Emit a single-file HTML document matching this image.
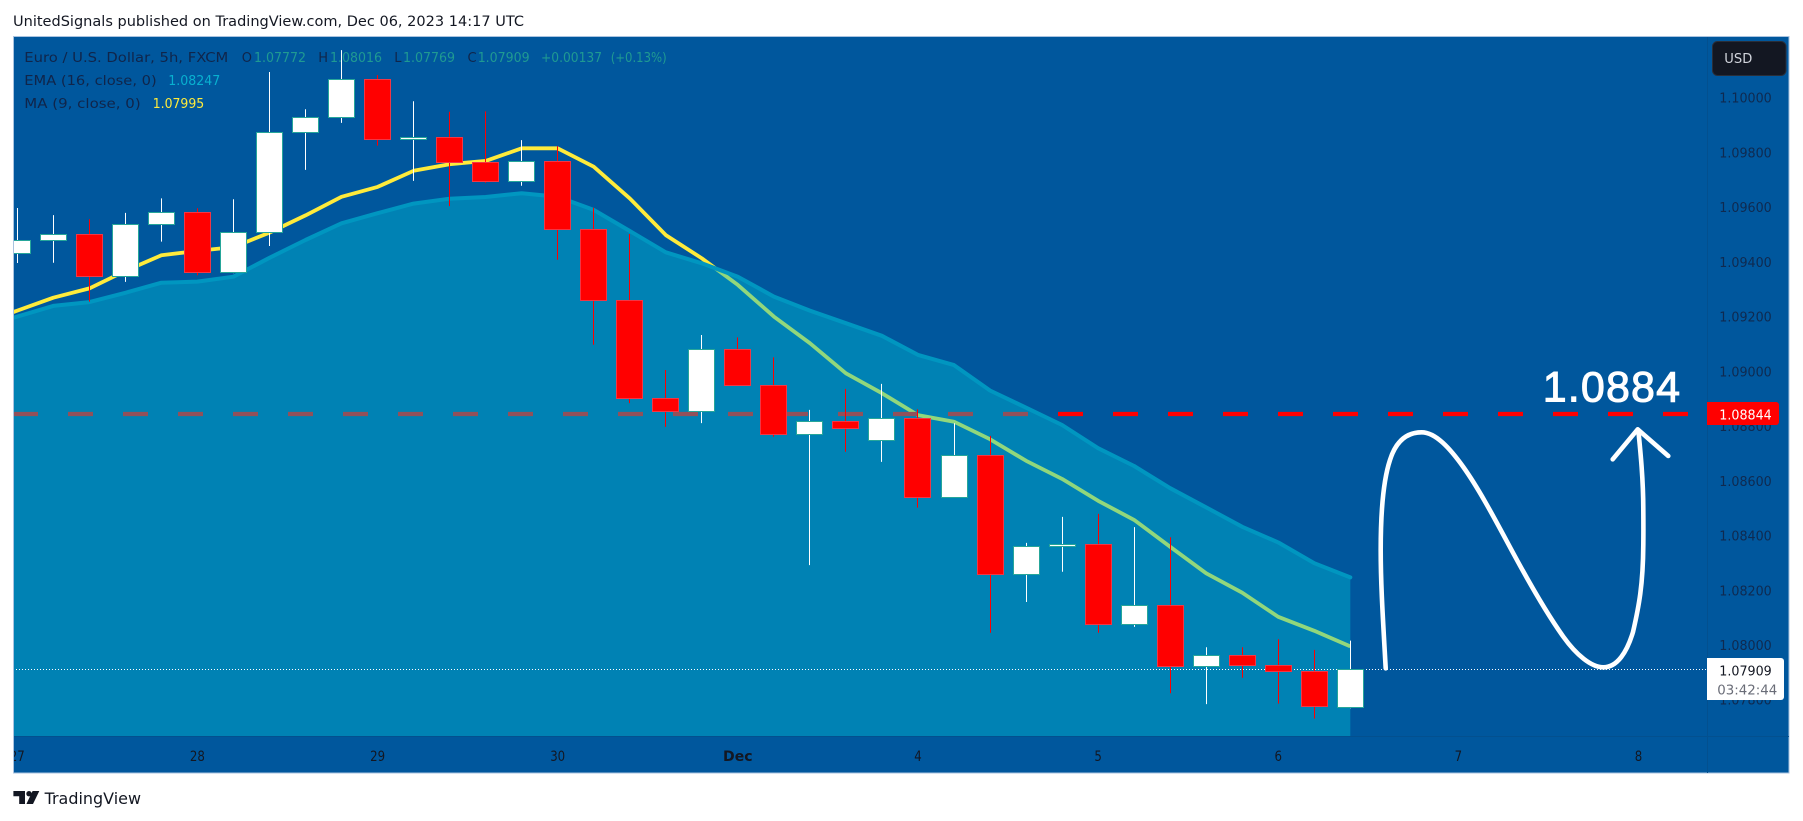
<!DOCTYPE html>
<html lang="en">
<head>
<meta charset="utf-8">
<title>EUR/USD 5h chart</title>
<style>
html,body{margin:0;padding:0;background:#fff;width:1803px;height:821px;overflow:hidden}
svg{display:block}
text{font-family:"DejaVu Sans","Liberation Sans",sans-serif;font-size:13px}
</style>
</head>
<body>
<svg id="chart" xmlns="http://www.w3.org/2000/svg" width="1803" height="821" viewBox="0 0 1803 821">
  <defs>
    <clipPath id="pane-clip"><rect x="14" y="37" width="1693" height="699"/></clipPath>
    <clipPath id="time-clip"><rect x="14" y="737" width="1693" height="36"/></clipPath>
  </defs>
  <text x="13" y="26" style="font-size:14px" fill="#131722" textLength="511" lengthAdjust="spacingAndGlyphs">UnitedSignals published on TradingView.com, Dec 06, 2023 14:17 UTC</text>
  <rect x="13.5" y="36.5" width="1775.5" height="736.5" fill="#00579d" stroke="#a9c3e0" stroke-width="1"/>

  <g>
    <text x="24.3" y="62" fill="#10254a" textLength="204" lengthAdjust="spacingAndGlyphs">Euro / U.S. Dollar, 5h, FXCM</text>
    <text x="241.7" y="62" fill="#10254a">O</text>
    <text x="254" y="62" fill="#1f9a92" textLength="52" lengthAdjust="spacingAndGlyphs">1.07772</text>
    <text x="318.3" y="62" fill="#10254a">H</text>
    <text x="330" y="62" fill="#1f9a92" textLength="52" lengthAdjust="spacingAndGlyphs">1.08016</text>
    <text x="394.3" y="62" fill="#10254a">L</text>
    <text x="403" y="62" fill="#1f9a92" textLength="52" lengthAdjust="spacingAndGlyphs">1.07769</text>
    <text x="467.5" y="62" fill="#10254a">C</text>
    <text x="477.7" y="62" fill="#1f9a92" textLength="52" lengthAdjust="spacingAndGlyphs">1.07909</text>
    <text x="541" y="62" fill="#1f9a92" textLength="61" lengthAdjust="spacingAndGlyphs">+0.00137</text>
    <text x="610.7" y="62" fill="#1f9a92" textLength="56" lengthAdjust="spacingAndGlyphs">(+0.13%)</text>
    <text x="24.3" y="85" fill="#10254a" textLength="132.4" lengthAdjust="spacingAndGlyphs">EMA (16, close, 0)</text>
    <text x="168.3" y="85" fill="#08b0d0" textLength="52" lengthAdjust="spacingAndGlyphs">1.08247</text>
    <text x="24.3" y="108" fill="#10254a" textLength="116.4" lengthAdjust="spacingAndGlyphs">MA (9, close, 0)</text>
    <text x="152.7" y="108" fill="#ffeb3b" textLength="51.5" lengthAdjust="spacingAndGlyphs">1.07995</text>
  </g>

  <g id="pane" clip-path="url(#pane-clip)"></g>

  <g fill="none" stroke="#ffffff" stroke-width="4.6" stroke-linecap="round" stroke-linejoin="round">
    <path d="M1385.7 668.3 C1383 620 1380.7 585 1380.7 550 C1380.7 510 1384 478 1390 460 C1396 441 1407 432.3 1421.7 432.3 C1435.7 432.3 1450.3 448.8 1463.3 467 C1480 490.4 1496.6 522.4 1513.3 553.3 C1530 584.2 1546.6 613.3 1563.3 636.7 C1576.3 654.9 1591.3 667.3 1603.3 667.3 C1617.3 667.3 1627 652 1633 632 C1639 606 1643 585 1643.3 545 C1643.5 530 1643.4 520 1643.3 510 C1643.3 480 1640.5 452 1638.3 430"/>
    <path d="M1612.7 459.3 L1637.7 429.3 L1668.3 456"/>
  </g>
  <text x="1542.7" y="401.7" fill="#ffffff" stroke="#ffffff" stroke-width="1" style="font-family:'Liberation Sans',sans-serif;font-size:43px" textLength="137.3" lengthAdjust="spacing">1.0884</text>

  <line x1="1707.5" y1="37" x2="1707.5" y2="773" stroke="#03508f" stroke-width="1"/>
  <line x1="14" y1="736.5" x2="1789" y2="736.5" stroke="#03508f" stroke-width="1"/>
  <g id="price-axis"></g>
  <g id="time-axis" clip-path="url(#time-clip)"></g>

  <g>
    <rect x="1712.5" y="41.5" width="73.5" height="34" rx="5" fill="#131722" stroke="#2a2e39"/>
    <text x="1724.3" y="63" fill="#d1d4dc" textLength="28" lengthAdjust="spacingAndGlyphs">USD</text>
  </g>

  <g>
    <path d="M1707 402 H1776 a3 3 0 0 1 3 3 V422 a3 3 0 0 1 -3 3 H1707 Z" fill="#ff0000"/>
    <text id="level-label" x="1745.5" y="419.5" fill="#ffffff" text-anchor="middle" textLength="52.5" lengthAdjust="spacingAndGlyphs">1.08844</text>
  </g>
  <g>
    <path d="M1707 658 H1781 a3 3 0 0 1 3 3 V697 a3 3 0 0 1 -3 3 H1707 Z" fill="#ffffff"/>
    <text x="1745.5" y="675.5" fill="#131722" text-anchor="middle" textLength="52.5" lengthAdjust="spacingAndGlyphs">1.07909</text>
    <text x="1747.3" y="694.5" fill="#6a6d78" text-anchor="middle" textLength="60" lengthAdjust="spacingAndGlyphs">03:42:44</text>
  </g>

  <g>
    <path fill="#131722" d="M13.4 791 H25 V804 H19.2 V796.2 H13.4 Z M26.4 804 L32.6 791 H39.3 L33 804 Z"/>
    <circle cx="29" cy="793.7" r="2.7" fill="#131722"/>
    <text x="44.6" y="804" fill="#131722" style="font-size:16px" textLength="96.4" lengthAdjust="spacingAndGlyphs">TradingView</text>
  </g>
</svg>

<script>
// ---- chart data (prices) ----
const opens  = [1.09431,1.09479,1.09501,1.09347,1.09536,1.09581,1.09360,1.09507,1.09872,1.09927,1.10067,1.09847,1.09855,1.09762,1.09693,1.09766,1.09519,1.09260,1.08902,1.08854,1.09079,1.08949,1.08770,1.08817,1.08748,1.08827,1.08540,1.08692,1.08258,1.08359,1.08368,1.08074,1.08144,1.07921,1.07961,1.07926,1.07904,1.07772];
const highs  = [1.09597,1.09571,1.09556,1.09579,1.09632,1.09596,1.09629,1.10094,1.09958,1.10174,1.10083,1.09987,1.09949,1.09950,1.09845,1.09823,1.09598,1.09502,1.09005,1.09133,1.09124,1.09051,1.08859,1.08936,1.08954,1.08861,1.08810,1.08764,1.08373,1.08468,1.08479,1.08431,1.08394,1.07992,1.07992,1.08021,1.07982,1.08016];
const lows   = [1.09396,1.09397,1.09255,1.09327,1.09474,1.09351,1.09359,1.09458,1.09736,1.09908,1.09825,1.09696,1.09604,1.09689,1.09678,1.09408,1.09097,1.08884,1.08797,1.08811,1.08948,1.08761,1.08292,1.08706,1.08669,1.08502,1.08539,1.08045,1.08157,1.08268,1.08045,1.08066,1.07824,1.07784,1.07880,1.07786,1.07731,1.07769];
const closes = [1.09477,1.09499,1.09346,1.09536,1.09581,1.09360,1.09507,1.09872,1.09927,1.10067,1.09847,1.09855,1.09762,1.09693,1.09766,1.09519,1.09260,1.08902,1.08854,1.09079,1.08949,1.08770,1.08817,1.08790,1.08827,1.08540,1.08692,1.08258,1.08359,1.08368,1.08074,1.08144,1.07921,1.07961,1.07926,1.07904,1.07775,1.07909];
// moving averages begin one bar before the first visible candle
const maValues  = [1.09174,1.09222,1.09269,1.09303,1.09367,1.09424,1.09440,1.09454,1.09507,1.09570,1.09638,1.09674,1.09733,1.09757,1.09769,1.09815,1.09815,1.09748,1.09632,1.09498,1.09413,1.09316,1.09200,1.09103,1.08993,1.08920,1.08840,1.08816,1.08752,1.08673,1.08607,1.08527,1.08457,1.08359,1.08262,1.08191,1.08103,1.08052,1.07995];
const emaValues = [1.09161,1.09200,1.09239,1.09253,1.09287,1.09324,1.09328,1.09346,1.09415,1.09480,1.09541,1.09578,1.09613,1.09631,1.09637,1.09651,1.09638,1.09590,1.09513,1.09435,1.09395,1.09346,1.09273,1.09222,1.09176,1.09130,1.09060,1.09023,1.08930,1.08867,1.08804,1.08719,1.08654,1.08573,1.08503,1.08432,1.08375,1.08299,1.08247];
const priceTicks = [1.10000,1.09800,1.09600,1.09400,1.09200,1.09000,1.08800,1.08600,1.08400,1.08200,1.08000,1.07800];
const timeTickLabels = ['27','28','29','30','Dec','4','5','6','7','8'];
const timeTickEveryBars = [5];
const levelPrice = [1.08844];
const lastPrice = [1.07909];

// ---- axis functions ----
function xAt(i){ return 17.3 + 36.027 * i; }
function yAt(p){ return 97.7 + (1.1 - p) * 27365; }

const NS = 'http://www.w3.org/2000/svg';
function make(tag, attrs, parent){
  const el = document.createElementNS(NS, tag);
  for (const k in attrs) el.setAttribute(k, attrs[k]);
  parent.appendChild(el);
  return el;
}
const pane = document.getElementById('pane');
const priceAxis = document.getElementById('price-axis');
const timeAxis = document.getElementById('time-axis');

function linePoints(values, firstIndex){
  return values.map(function(v, k){ return xAt(firstIndex + k).toFixed(1) + ',' + yAt(v).toFixed(1); });
}

// MA line sits under the EMA area
const maLine = make('polyline', {points: linePoints(maValues, -1).join(' '), fill: 'none', stroke: '#ffeb3b', 'stroke-width': 3.8, 'stroke-linejoin': 'round'}, pane);



// target level
const levelLine = make('line', {x1: 13, x2: 1707, y1: yAt(levelPrice[0]).toFixed(1), y2: yAt(levelPrice[0]).toFixed(1), stroke: '#ff0000', 'stroke-width': 4.3, 'stroke-dasharray': '25 30'}, pane);



// EMA area and edge
const emaPts = linePoints(emaValues, -1);
const areaPath = 'M' + emaPts.join(' L') + ' L' + xAt(emaValues.length - 2).toFixed(1) + ',736 L' + xAt(-1).toFixed(1) + ',736 Z';
const emaArea = make('path', {d: areaPath, fill: 'rgba(0,188,212,0.43)'}, pane);


const emaLine = make('polyline', {points: emaPts.join(' '), fill: 'none', stroke: '#0096c0', 'stroke-width': 4, 'stroke-linejoin': 'round', 'stroke-linecap': 'round'}, pane);



// last price dotted line
const lastY = Math.floor(yAt(lastPrice[0])) + 0.5;
const lastLine = make('line', {x1: 13, x2: 1707, y1: lastY, y2: lastY, stroke: '#ffffff', 'stroke-width': 1, 'stroke-dasharray': '1 2'}, pane);



// candles
opens.forEach(function(o, i){
  const c = closes[i], up = c >= o;
  const cx = Math.floor(xAt(i)) + 0.5;
  const top = Math.floor(yAt(Math.max(o, c))) + 0.5, bottom = Math.floor(yAt(Math.min(o, c))) + 0.5;
  const wick = make('line', {x1: cx, x2: cx, y1: yAt(highs[i]).toFixed(1), y2: yAt(lows[i]).toFixed(1), stroke: up ? '#ffffff' : '#ff0000', 'stroke-width': 1}, pane);
  
  
  const body = make('rect', {x: cx - 13, y: top, width: 26, height: Math.max(bottom - top, 1), fill: up ? '#ffffff' : '#ff0000', stroke: up ? '#26a69a' : '#f23645', 'stroke-width': 1}, pane);
  
  
});

// price axis
priceTicks.forEach(function(p){
  const t = make('text', {x: 1745.5, y: (yAt(p) + 5).toFixed(1), fill: '#0f2a50', 'text-anchor': 'middle', textLength: 52.5, lengthAdjust: 'spacingAndGlyphs'}, priceAxis);
  
  
  t.textContent = p.toFixed(5);
});

// time axis
timeTickLabels.forEach(function(label, k){
  const isMonth = label === 'Dec';
  const t = make('text', {x: xAt(k * timeTickEveryBars[0]).toFixed(1), y: 761, fill: '#131722', style: 'font-size:14px', 'text-anchor': 'middle', 'font-weight': isMonth ? 'bold' : 'normal', textLength: isMonth ? 29.5 : 7.5 * label.length, lengthAdjust: 'spacingAndGlyphs'}, timeAxis);
  
  
  t.textContent = label;
});
</script>
</body>
</html>
